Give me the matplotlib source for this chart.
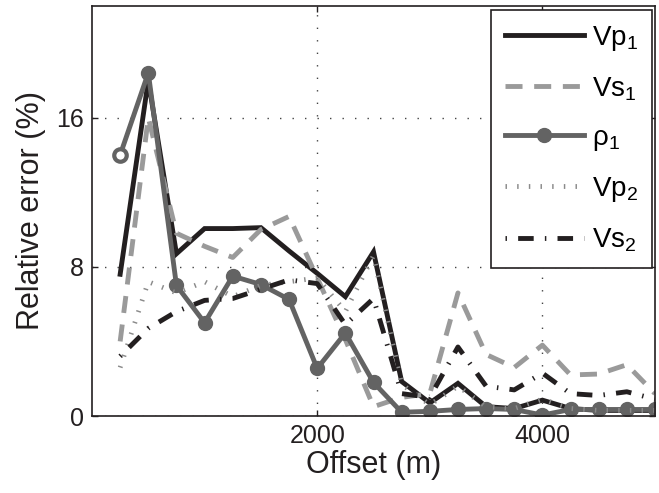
import matplotlib
matplotlib.use("Agg")
import matplotlib.pyplot as plt

plt.rcParams["font.family"] = ["Liberation Sans", "DejaVu Sans"]
plt.rcParams["mathtext.fontset"] = "custom"
plt.rcParams["mathtext.rm"] = "Liberation Sans"
plt.rcParams["mathtext.it"] = "Liberation Sans:italic"

# Offsets (m) and relative errors (%) of each inverted parameter
offset = [250, 500, 750, 1000, 1250, 1500, 1750, 2000, 2250, 2500,
          2750, 3000, 3250, 3500, 3750, 4000, 4250, 4500, 4750, 5000]
vp1 = [7.6, 18.0, 8.7, 10.05, 10.05, 10.1, 8.85, 7.65, 6.4, 8.8,
       1.85, 0.7, 1.75, 0.5, 0.4, 0.85, 0.4, 0.3, 0.3, 0.3]
vs1 = [4.0, 16.0, 9.8, 9.1, 8.5, 10.0, 10.7, 7.4, 4.1, 0.5,
       1.0, 1.2, 6.6, 3.3, 2.6, 3.8, 2.2, 2.25, 2.75, 1.2]
rho1 = [14.0, 18.4, 7.0, 5.0, 7.5, 7.05, 6.25, 2.55, 4.45, 1.8,
        0.2, 0.25, 0.35, 0.4, 0.35, 0.05, 0.35, 0.35, 0.35, 0.35]
vp2 = [2.6, 7.2, 6.6, 7.2, 6.4, 7.0, 7.2, 7.4, 5.6, 8.6,
       1.7, 0.6, 1.6, 0.5, 0.4, 0.9, 0.4, 0.3, 0.3, 0.3]
vs2 = [3.2, 4.7, 5.6, 6.2, 6.3, 6.8, 7.3, 7.1, 4.9, 6.3,
       1.2, 1.0, 3.7, 1.6, 1.4, 2.3, 1.2, 1.1, 1.3, 0.9]

labels = [r"$\mathregular{Vp_1}$", r"$\mathregular{Vs_1}$", r"$\mathregular{ρ_1}$",
          r"$\mathregular{Vp_2}$", r"$\mathregular{Vs_2}$"]
xticks = [2000, 4000]
yticks = [0, 8, 16]

BLACK = "#231f20"
LIGHT = "#9a9a9a"
MID = "#636363"
LW = 3.5

fig = plt.figure(figsize=(6.59, 4.93), dpi=100)
ax = fig.add_axes([92 / 659, 1 - 416 / 493, (655 - 92) / 659, (416 - 5.7) / 493])

ax.plot(offset, vp1, color=BLACK, lw=LW, solid_joinstyle="miter", label=labels[0])
ax.plot(offset, vs1, color=LIGHT, lw=LW, dashes=(3.5, 2.4), dash_capstyle="butt",
        label=labels[1])
ax.plot(offset, rho1, color=MID, lw=LW, marker="o", ms=10, mfc=MID, mec=MID,
        markevery=list(range(1, len(offset))), label=labels[2])
ax.plot(offset[:1], rho1[:1], ls="none", marker="o", ms=9, mfc="white", mec=MID, mew=3)
ax.plot(offset, vp2, color="#8a8a8a", lw=LW, dashes=(0.3, 2.1), dash_capstyle="butt",
        label=labels[3])
ax.plot(offset, vs2, color=BLACK, lw=LW, dashes=(0.3, 2.3, 3.2, 2.3),
        dash_capstyle="butt", label=labels[4])

ax.set_xlim(0, 5000)
ax.set_ylim(0, 22)
ax.set_xticks(xticks)
ax.set_yticks(yticks)
ax.grid(True, color="#444444", lw=1.0, ls=(0, (1, 8)))
ax.tick_params(direction="in", length=4, width=1, labelsize=18, colors=BLACK,
               top=True, right=True, pad=6)
for s in ax.spines.values():
    s.set_linewidth(1.2)
    s.set_color(BLACK)

ax.set_xlabel("Offset (m)", fontsize=22, color=BLACK, labelpad=1)
ax.set_ylabel("Relative error (%)", fontsize=22, color=BLACK, labelpad=7)

leg = ax.legend(loc="upper right", bbox_to_anchor=(652 / 659, 1 - 10 / 493),
                bbox_transform=fig.transFigure, borderaxespad=0,
                fontsize=20, handlelength=2.85, handletextpad=0.3,
                labelspacing=0.8, borderpad=0.5, fancybox=False,
                framealpha=1, edgecolor=BLACK)
leg.get_frame().set_linewidth(1.2)

fig.savefig("out.png", dpi=100)
